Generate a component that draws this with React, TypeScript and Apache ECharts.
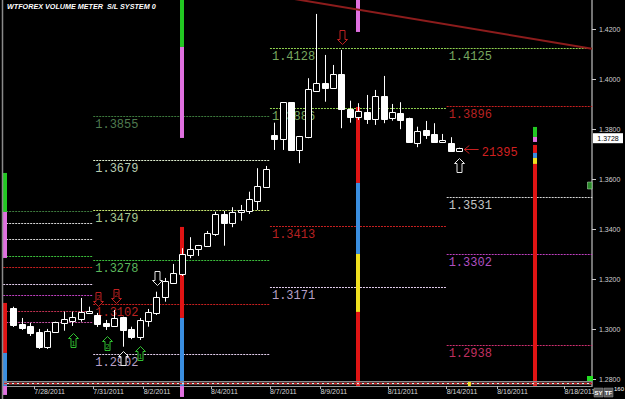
import React, { useEffect, useRef } from "react";
import * as echarts from "echarts";

// ---------- data ----------
const dateTicks = [2.5, 9.5, 15.5, 23.5, 30.5, 36.5, 44.5, 51.5, 57.5, 65.5];
const dateLabels = ["7/28/2011", "7/31/2011", "8/2/2011", "8/4/2011", "8/7/2011", "8/9/2011", "8/11/2011", "8/14/2011", "8/16/2011", "8/18/2011"];
const priceTicks = [1.28, 1.3, 1.32, 1.34, 1.36, 1.38, 1.4, 1.42];

const opens = [1.3086, 1.3023, 1.3015, 1.2992, 1.2932, 1.2991, 1.3027, 1.3036, 1.3043, 1.3068, 1.3059, 1.3028, 1.3016, 1.3052, 1.3003, 1.2972, 1.3036, 1.3066, 1.313, 1.3188, 1.3221, 1.33, 1.3322, 1.3336, 1.3383, 1.3463, 1.3426, 1.347, 1.3475, 1.3516, 1.3572, 1.3779, 1.3763, 1.391, 1.3719, 1.377, 1.3956, 1.3988, 1.3968, 1.4022, 1.3882, 1.385, 1.3872, 1.3843, 1.3935, 1.3846, 1.3868, 1.3846, 1.3748, 1.3799, 1.3783, 1.375, 1.3748, 1.3715];
const highs = [1.3092, 1.3047, 1.3027, 1.3003, 1.3003, 1.3032, 1.3072, 1.3072, 1.3127, 1.3092, 1.3067, 1.3039, 1.3079, 1.3052, 1.3012, 1.3047, 1.3083, 1.3152, 1.3207, 1.3263, 1.3326, 1.337, 1.3339, 1.3395, 1.3472, 1.3475, 1.349, 1.3499, 1.3552, 1.3646, 1.3655, 1.3828, 1.391, 1.391, 1.3775, 1.4006, 1.4263, 1.4099, 1.4059, 1.4119, 1.3916, 1.3906, 1.3939, 1.3959, 1.4015, 1.3903, 1.391, 1.3848, 1.3812, 1.3835, 1.3826, 1.3783, 1.377, 1.3728];
const lows = [1.3011, 1.2999, 1.2975, 1.2923, 1.2923, 1.2988, 1.2996, 1.3015, 1.3032, 1.3063, 1.3011, 1.2999, 1.3012, 1.2932, 1.2962, 1.2959, 1.3012, 1.3059, 1.3112, 1.3186, 1.3215, 1.3286, 1.3295, 1.3331, 1.3375, 1.3336, 1.341, 1.3436, 1.3463, 1.3479, 1.357, 1.3719, 1.3719, 1.3719, 1.3666, 1.3766, 1.3952, 1.3912, 1.3963, 1.3806, 1.3828, 1.3839, 1.3823, 1.3819, 1.3826, 1.3836, 1.3802, 1.3748, 1.373, 1.3763, 1.375, 1.375, 1.3715, 1.3715];
const closes = [1.3019, 1.3008, 1.2987, 1.2932, 1.2995, 1.3031, 1.3043, 1.3052, 1.3071, 1.3076, 1.3023, 1.3015, 1.3048, 1.2998, 1.297, 1.3039, 1.3072, 1.3132, 1.3196, 1.3228, 1.3303, 1.3323, 1.3338, 1.3386, 1.3463, 1.3426, 1.3472, 1.3478, 1.3522, 1.3575, 1.3643, 1.3763, 1.391, 1.3719, 1.3775, 1.3962, 1.3986, 1.3968, 1.4022, 1.3882, 1.385, 1.3875, 1.3843, 1.3934, 1.3843, 1.387, 1.3839, 1.375, 1.3796, 1.3779, 1.3752, 1.3759, 1.3715, 1.3728];

// support / resistance levels
const levelStart = [-1.2, -1.2, -1.2, -1.2, -1.2, -1.2, -1.2, -1.2, -1.2, 9.5, 9.5, 9.5, 9.5, 9.5, 9.5, 30.5, 30.5, 30.5, 30.5, 51.5, 51.5, 51.5, 51.5, 51.5];
const levelEnd = [9.5, 9.5, 9.5, 9.5, 9.5, 9.5, 9.5, 9.5, 9.5, 30.5, 30.5, 30.5, 30.5, 30.5, 30.5, 51.5, 51.5, 51.5, 51.5, 68.8, 68.8, 68.8, 68.8, 68.8];
const levelPrice = [1.3475, 1.3427, 1.3363, 1.3295, 1.3251, 1.3183, 1.3139, 1.3075, 1.3031, 1.3855, 1.3679, 1.3479, 1.3278, 1.3102, 1.2902, 1.4128, 1.3886, 1.3413, 1.3171, 1.4125, 1.3896, 1.3531, 1.3302, 1.2938];
const levelKind = ["darkgreen", "white", "white", "green", "red", "lilac", "violet", "rose", "pink", "darkgreen", "whitegreen", "yellowgreen", "green", "red", "lilac", "lime", "lime", "red", "lilac", "lime", "red", "white", "violet", "magenta"];
const levelLabeled = [false, false, false, false, false, false, false, false, false, true, true, true, true, true, true, true, true, true, true, true, true, true, true, true];

// volume meter columns
const volK = [-1, -1, -1, -1, -1, 20, 20, 20, 20, 20, 41, 41, 41, 41, 41, 62, 62, 62, 62, 62, 62];
const volTop = [1.3627, 1.3471, 1.3107, 1.2907, 1.2775, 1.4319, 1.4131, 1.3411, 1.3047, 1.2775, 1.4319, 1.3891, 1.3587, 1.3303, 1.3071, 1.3811, 1.3771, 1.3739, 1.3707, 1.3687, 1.3663];
const volBottom = [1.3471, 1.3287, 1.2907, 1.2775, 1.2739, 1.4131, 1.3767, 1.3047, 1.2775, 1.2731, 1.4191, 1.3587, 1.3303, 1.3071, 1.2775, 1.3771, 1.3751, 1.3707, 1.3687, 1.3663, 1.2775];
const volKind = ["green", "pink", "red", "blue", "pink", "green", "pink", "red", "blue", "pink", "pink", "red", "blue", "yellow", "red", "green", "pink", "red", "blue", "yellow", "red"];

// signal arrows
const arrowK = [7.1, 11.15, 15.05, 13.05, 10.05, 12.2, 17.1, 39.05, 53.0];
const arrowPrice = [1.2959, 1.2947, 1.2907, 1.2887, 1.3123, 1.3135, 1.3207, 1.4171, 1.3659];
const arrowDir = ["up", "up", "up", "up", "down", "down", "down", "down", "up"];
const arrowKind = ["green", "green", "green", "white", "red", "red", "white", "red", "white"];
const arrowDigit = ["1", "2", "1", "", "2", "2", "", "", ""];

// trend line
const trendK = [30, 68.77];
const trendPrice = [1.4342, 1.4124];

// counter annotation
const counterText = "21395";
const counterK = 55.66;
const counterPrice = 1.3705;
const pointerK = [53.6, 55.3];
const pointerPrice = 1.3723;

const title = "WTFOREX VOLUME METER  S/L SYSTEM 0";
const barCountText = "160";

// ---------- styles ----------
const FONT = '"Liberation Sans", Arial, sans-serif';
const LCD = '"Liberation Mono", "DejaVu Sans Mono", monospace';

const levelPalette: Record<string, { line: string; label: string }> = {
  darkgreen: { line: "#3d7a3d", label: "#4f7a4f" },
  white: { line: "#d8d8d8", label: "#c4c4c4" },
  green: { line: "#3cc03c", label: "#5cb85c" },
  red: { line: "#c82020", label: "#b82222" },
  lilac: { line: "#e6d0f0", label: "#b8a0c8" },
  violet: { line: "#c040c0", label: "#b050c0" },
  rose: { line: "#c03050", label: "#c03050" },
  pink: { line: "#c050a0", label: "#c050a0" },
  whitegreen: { line: "#e0f0d0", label: "#b8ccb0" },
  yellowgreen: { line: "#c8e870", label: "#a8c890" },
  lime: { line: "#8fd14f", label: "#78a860" },
  magenta: { line: "#d03070", label: "#c03060" },
};
const volPalette: Record<string, string> = {
  green: "#22c822",
  pink: "#e070e0",
  red: "#e01414",
  blue: "#3a8ee0",
  yellow: "#f0e020",
};
const arrowPalette: Record<string, string> = {
  green: "#30c030",
  white: "#e8e8e8",
  red: "#c02020",
};

export default function App() {
  const ref = useRef<HTMLDivElement>(null);

  useEffect(() => {
    document.body.style.margin = "0";
    const chart = echarts.init(ref.current as HTMLDivElement, null, { renderer: "svg" });

    const findLabel = (v: number) => {
      const i = dateTicks.findIndex((t) => Math.abs(t - v) < 1e-6);
      return i >= 0 ? dateLabels[i] : "";
    };

    const option: any = {
      animation: false,
      backgroundColor: "#000",
      grid: { left: 4, right: 33, top: 0, bottom: 13 },
      xAxis: {
        type: "value",
        min: -1.105,
        max: 68.77,
        axisLine: { show: true, onZero: false, lineStyle: { color: "#9a9a9a", width: 1 } },
        axisTick: { show: true, customValues: dateTicks, length: 3, lineStyle: { color: "#bbbbbb" } },
        axisLabel: {
          customValues: dateTicks,
          formatter: (v: number) => findLabel(v),
          color: "#d8d8d8",
          fontSize: 7,
          fontFamily: FONT,
          align: "left",
          margin: 2,
        },
        splitLine: { show: false },
      },
      yAxis: {
        type: "value",
        position: "right",
        min: 1.27748,
        max: 1.43188,
        axisLine: { show: true, onZero: false, lineStyle: { color: "#9a9a9a", width: 1.5 } },
        axisTick: { show: true, customValues: priceTicks, length: 4, lineStyle: { color: "#cccccc" } },
        axisLabel: {
          customValues: priceTicks,
          formatter: (v: number) => v.toFixed(4),
          color: "#d0d0d0",
          fontSize: 7,
          fontFamily: FONT,
          margin: 7,
        },
        splitLine: { show: false },
      },
      series: [
        {
          type: "custom",
          name: "levels",
          z: 2,
          silent: true,
          data: levelStart.map((s, i) => [s, levelEnd[i], levelPrice[i]]),
          renderItem: (params: any, api: any) => {
            const i = params.dataIndex;
            const pal = levelPalette[levelKind[i]];
            const a = api.coord([api.value(0), api.value(2)]);
            const b = api.coord([api.value(1), api.value(2)]);
            const y = Math.round(a[1]) + 0.5;
            const children: any[] = [
              {
                type: "line",
                shape: { x1: a[0], y1: y, x2: b[0], y2: y },
                style: { stroke: pal.line, lineWidth: 1, lineDash: [2, 1] },
              },
            ];
            if (levelLabeled[i]) {
              children.push({
                type: "text",
                x: a[0] + 2,
                y: y + 8.5,
                style: {
                  text: Number(api.value(2)).toFixed(4),
                  fill: pal.label,
                  font: `12px ${LCD}`,
                  align: "left",
                  verticalAlign: "middle",
                  textAlign: "left",
                  textVerticalAlign: "middle",
                },
              });
            }
            return { type: "group", children };
          },
        },
        {
          type: "line",
          name: "trend",
          z: 3,
          silent: true,
          symbol: "none",
          data: trendK.map((k, i) => [k, trendPrice[i]]),
          lineStyle: { color: "#8c1c1c", width: 2 },
        },
        {
          type: "custom",
          name: "volume",
          z: 3,
          silent: true,
          clip: false,
          data: volK.map((k, i) => [k, volTop[i], volBottom[i]]),
          renderItem: (params: any, api: any) => {
            const i = params.dataIndex;
            const t = api.coord([api.value(0), api.value(1)]);
            const b = api.coord([api.value(0), api.value(2)]);
            const x = Math.round(t[0]) - 2;
            return {
              type: "rect",
              shape: { x, y: t[1], width: 4, height: b[1] - t[1] },
              style: { fill: volPalette[volKind[i]] },
            };
          },
        },
        {
          type: "custom",
          name: "candles",
          z: 4,
          silent: true,
          data: opens.map((o, i) => [i, o, highs[i], lows[i], closes[i]]),
          renderItem: (params: any, api: any) => {
            const k = api.value(0);
            const o = api.value(1);
            const c = api.value(4);
            const pO = api.coord([k, o]);
            const pH = api.coord([k, api.value(2)]);
            const pL = api.coord([k, api.value(3)]);
            const pC = api.coord([k, c]);
            const x = Math.round(pO[0]) + 0.5;
            const top = Math.round(Math.min(pO[1], pC[1])) + 0.5;
            let bot = Math.round(Math.max(pO[1], pC[1])) + 0.5;
            if (bot - top < 1) bot = top + 1;
            const up = c >= o;
            return {
              type: "group",
              children: [
                { type: "line", shape: { x1: x, y1: pH[1], x2: x, y2: top }, style: { stroke: "#ffffff", lineWidth: 1 } },
                { type: "line", shape: { x1: x, y1: bot, x2: x, y2: pL[1] }, style: { stroke: "#ffffff", lineWidth: 1 } },
                {
                  type: "rect",
                  shape: { x: x - 3, y: top, width: 6, height: bot - top },
                  style: { fill: up ? "#000000" : "#ffffff", stroke: "#ffffff", lineWidth: 1 },
                },
              ],
            };
          },
        },
        {
          type: "custom",
          name: "arrows",
          z: 5,
          silent: true,
          data: arrowK.map((k, i) => [k, arrowPrice[i]]),
          renderItem: (params: any, api: any) => {
            const i = params.dataIndex;
            const p = api.coord([api.value(0), api.value(1)]);
            const cx = Math.round(p[0]) + 0.5;
            const cy = Math.round(p[1]) + 0.5;
            const s = arrowDir[i] === "up" ? 1 : -1;
            const pts = [
              [cx, cy - 7 * s],
              [cx + 5, cy - 2 * s],
              [cx + 2.5, cy - 2 * s],
              [cx + 2.5, cy + 7 * s],
              [cx - 2.5, cy + 7 * s],
              [cx - 2.5, cy - 2 * s],
              [cx - 5, cy - 2 * s],
            ];
            const col = arrowPalette[arrowKind[i]];
            const children: any[] = [
              { type: "polygon", shape: { points: pts }, style: { fill: "#000000", stroke: col, lineWidth: 1 } },
            ];
            if (arrowDigit[i]) {
              children.push({
                type: "text",
                x: cx,
                y: cy + 2.5 * s,
                style: {
                  text: arrowDigit[i],
                  fill: col,
                  font: `7px ${FONT}`,
                  align: "center",
                  verticalAlign: "middle",
                  textAlign: "center",
                  textVerticalAlign: "middle",
                },
              });
            }
            return { type: "group", children };
          },
        },
        {
          type: "custom",
          name: "counter",
          z: 5,
          silent: true,
          data: [[pointerK[0], pointerK[1], pointerPrice, counterK, counterPrice]],
          renderItem: (params: any, api: any) => {
            const a = api.coord([api.value(0), api.value(2)]);
            const b = api.coord([api.value(1), api.value(2)]);
            const t = api.coord([api.value(3), api.value(4)]);
            const y = Math.round(a[1]) + 0.5;
            return {
              type: "group",
              children: [
                { type: "line", shape: { x1: a[0], y1: y, x2: b[0], y2: y }, style: { stroke: "#c82020", lineWidth: 1 } },
                {
                  type: "polyline",
                  shape: { points: [[a[0] + 5, y - 4], [a[0], y], [a[0] + 5, y + 4]] },
                  style: { stroke: "#c82020", lineWidth: 1, fill: "none" },
                },
                {
                  type: "text",
                  x: t[0],
                  y: t[1],
                  style: {
                    text: counterText,
                    fill: "#d02020",
                    font: `12px ${LCD}`,
                    align: "left",
                    verticalAlign: "middle",
                    textAlign: "left",
                    textVerticalAlign: "middle",
                  },
                },
              ],
            };
          },
        },
      ],
    };

    chart.setOption(option);

    const lastClose = closes[closes.length - 1];
    const py = chart.convertToPixel({ yAxisIndex: 0 }, lastClose) as number;
    const boxCy = py - 9.5;
    const markerX = chart.convertToPixel({ xAxisIndex: 0 }, 54.2) as number;

    chart.setOption({
      graphic: {
        elements: [
          { type: "line", z: 50, shape: { x1: 2.5, y1: 0, x2: 2.5, y2: 399 }, style: { stroke: "#8a8a8a", lineWidth: 1.5 } },
          { type: "line", z: 50, shape: { x1: 4, y1: 381.5, x2: 592, y2: 381.5 }, style: { stroke: "#8a8a8a", lineWidth: 1 } },
          { type: "line", z: 50, shape: { x1: 4, y1: 383.5, x2: 592, y2: 383.5 }, style: { stroke: "#e8e8e8", lineWidth: 1.5 } },
          { type: "line", z: 51, shape: { x1: 4, y1: 383.5, x2: 592, y2: 383.5 }, style: { stroke: "#d02020", lineWidth: 1.5, lineDash: [3, 2] } },
          { type: "rect", z: 52, shape: { x: markerX - 1.5, y: 382, width: 3, height: 4 }, style: { fill: "#f0e020" } },
          {
            type: "text",
            z: 60,
            x: 7,
            y: 6.5,
            scaleX: 0.9,
            style: {
              text: title,
              fill: "#ffffff",
              font: `italic bold 8px ${FONT}`,
              align: "left",
              verticalAlign: "middle",
              textAlign: "left",
              textVerticalAlign: "middle",
            },
          },
          { type: "rect", z: 60, shape: { x: 593, y: boxCy - 5, width: 30, height: 10 }, style: { fill: "#ffffff" } },
          {
            type: "text",
            z: 61,
            x: 608,
            y: boxCy,
            style: { text: lastClose.toFixed(4), fill: "#000000", font: `7px ${FONT}`, align: "center", verticalAlign: "middle", textAlign: "center", textVerticalAlign: "middle" },
          },
          { type: "rect", z: 60, shape: { x: 587.5, y: 182, width: 4.5, height: 7 }, style: { fill: "#2a8a2a", stroke: "#bfe8bf", lineWidth: 0.5 } },
          { type: "rect", z: 60, shape: { x: 587, y: 376, width: 6, height: 5 }, style: { fill: "#22dd22" } },
          {
            type: "text",
            z: 61,
            x: 614,
            y: 389,
            style: { text: barCountText, fill: "#ffffff", font: `6px ${FONT}`, align: "left", verticalAlign: "middle", textAlign: "left", textVerticalAlign: "middle" },
          },
          { type: "rect", z: 70, shape: { x: 594, y: 388, width: 9, height: 9 }, style: { fill: "#5a5a5a", stroke: "#9a9a9a", lineWidth: 0.5 } },
          {
            type: "text",
            z: 71,
            x: 598.5,
            y: 392.5,
            style: { text: "SY", fill: "#ffffff", font: `bold 6px ${FONT}`, align: "center", verticalAlign: "middle", textAlign: "center", textVerticalAlign: "middle" },
          },
          { type: "rect", z: 70, shape: { x: 604, y: 388, width: 9, height: 9 }, style: { fill: "#5a5a5a", stroke: "#9a9a9a", lineWidth: 0.5 } },
          {
            type: "text",
            z: 71,
            x: 608.5,
            y: 392.5,
            style: { text: "TF", fill: "#ffffff", font: `bold 6px ${FONT}`, align: "center", verticalAlign: "middle", textAlign: "center", textVerticalAlign: "middle" },
          },
        ],
      },
    });

    return () => {
      chart.dispose();
    };
  }, []);

  return (
    <div
      ref={ref}
      style={{ position: "absolute", left: 0, top: 0, width: 625, height: 399, background: "#000" }}
    />
  );
}
